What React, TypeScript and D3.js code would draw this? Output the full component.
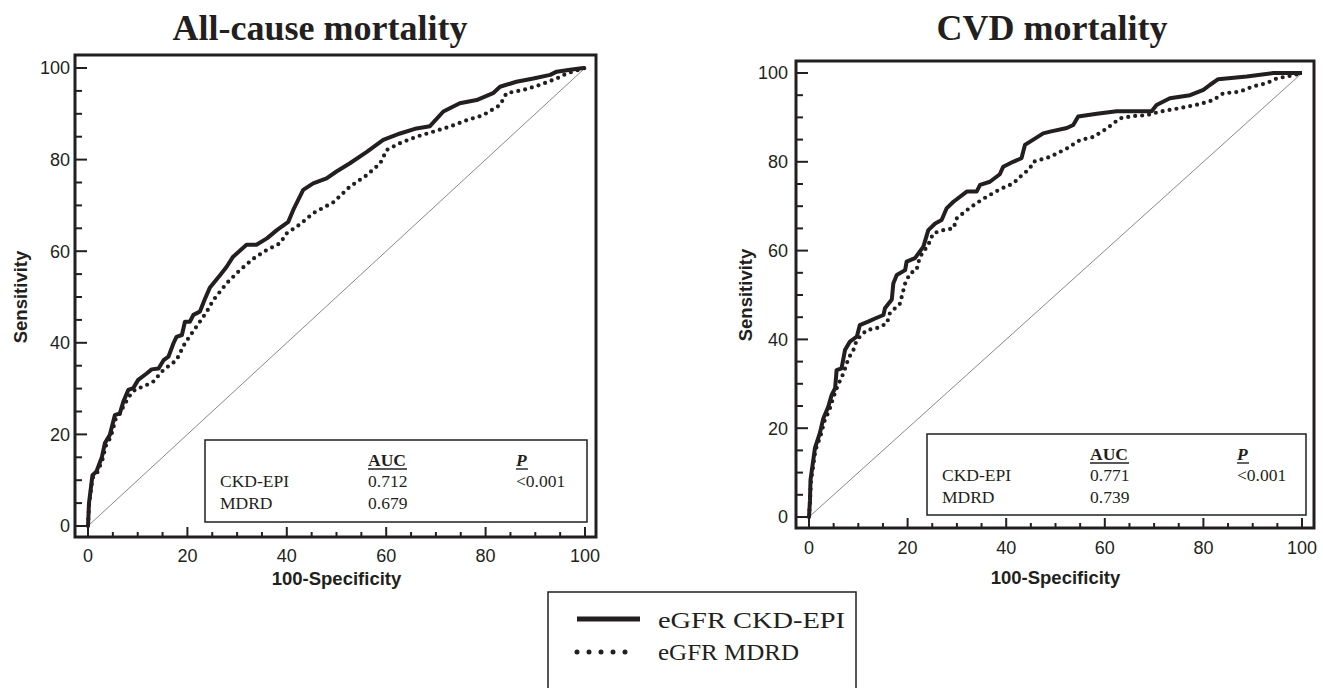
import React from "react";
import * as d3 from "d3";

const SANS = "'Liberation Sans', Arial, Helvetica, sans-serif";
const SERIF = "'Liberation Serif', 'Times New Roman', Times, serif";
const INK = "#231f20";

// ---- data (100-Specificity, Sensitivity) ----
const allCauseCkdEpi: [number, number][] = [
  [0,0],[0.2,5],[0.9,11.1],[1.7,11.9],[2.8,15.1],[3.4,18.1],[4.4,19.9],[5.4,24.2],[6.4,24.6],[7.1,27.1],[8.1,29.7],[9.1,30.1],[10.1,31.9],[11.8,33.3],[12.8,34.2],[14.2,34.4],[15.2,36.2],[16.2,37.0],[17.2,39.9],[17.8,41.3],[18.9,41.7],[19.5,44.6],[20.5,44.6],[21.2,46.1],[22.5,46.8],[23.5,49.5],[24.5,52.0],[26.6,54.8],[27.9,56.6],[29.2,58.8],[31.9,61.4],[33.9,61.4],[36.0,62.8],[38.0,64.6],[40.3,66.4],[41.3,69.0],[43.3,73.4],[45.3,74.8],[48.0,75.9],[50.0,77.4],[52.7,79.2],[56.1,81.7],[59.4,84.3],[62.8,85.7],[66.1,86.8],[68.8,87.3],[71.5,90.5],[74.8,92.3],[78.2,93.0],[81.5,94.5],[82.9,95.9],[86.2,97.0],[89.6,97.7],[93.0,98.5],[94.3,99.2],[97.0,99.6],[99.7,100],[100,100]
];
const allCauseMdrd: [number, number][] = [
  [0,0],[0.2,4.5],[0.9,10.5],[1.8,11.5],[2.9,14.5],[3.6,17.5],[4.6,19.5],[5.6,23.5],[6.4,24.5],[7.3,26.5],[8.5,28.6],[9.6,29.9],[11.1,30.4],[13.1,31.5],[15.2,34.1],[17.8,36.2],[19.5,39.9],[20.9,42.1],[22.5,44.6],[23.9,46.8],[25.2,49.3],[27.9,53.0],[30.6,55.9],[33.3,58.4],[36.0,60.3],[38.6,61.7],[40.0,63.9],[42.7,65.9],[45.3,68.3],[49.4,70.7],[52.7,74.1],[56.1,76.6],[58.8,79.2],[60.1,82.1],[62.8,83.6],[66.1,85.0],[69.5,86.1],[72.8,87.2],[76.2,88.6],[79.5,89.7],[82.9,91.9],[84.2,94.5],[87.6,95.2],[90.9,96.3],[94.3,97.7],[96.3,98.8],[100,100]
];
const cvdCkdEpi: [number, number][] = [
  [0,0],[0.2,3.8],[0.3,8.3],[1.2,15.5],[2.2,18.9],[2.9,22.2],[3.9,24.8],[4.6,27.5],[5.3,29.0],[5.6,33.1],[6.6,33.5],[7.3,37.6],[8.3,39.5],[9.7,40.6],[10.3,43.2],[12.0,44.0],[13.4,44.7],[15.1,45.5],[15.4,47.0],[16.8,49.0],[17.1,52.6],[17.8,54.5],[19.5,55.6],[19.8,57.5],[21.5,58.3],[23.2,60.9],[24.2,64.6],[25.6,66.1],[26.9,66.9],[27.9,69.5],[29.3,71.0],[32.0,73.3],[34.0,73.3],[34.7,74.8],[36.7,75.5],[38.7,77.2],[39.4,78.9],[41.4,80.0],[43.1,80.8],[43.8,83.8],[45.5,85.0],[47.5,86.4],[48.9,86.8],[52.3,87.6],[53.6,88.3],[54.6,90.2],[58.4,90.8],[62.4,91.4],[69.5,91.4],[70.5,92.8],[73.2,94.3],[77.3,95.0],[80.0,96.2],[81.3,97.3],[83.0,98.6],[88.8,99.2],[94.2,100],[100,100]
];
const cvdMdrd: [number, number][] = [
  [0,0],[0.2,3.5],[0.4,8],[1.3,15],[2.4,18.5],[3.1,21.5],[4.1,24],[4.9,26.8],[5.8,29.5],[7.0,32.4],[8.0,35.7],[9.0,37.6],[9.7,39.9],[11.7,42.1],[13.7,42.5],[15.8,43.6],[16.4,45.9],[18.5,48.1],[18.8,49.6],[19.5,52.6],[20.5,54.9],[21.8,55.6],[22.5,58.6],[24.2,61.3],[25.2,63.9],[27.2,64.6],[29.3,65.0],[30.0,67.3],[32.0,69.1],[34.0,70.7],[36.0,72.1],[38.7,73.8],[41.4,75.1],[42.8,76.6],[44.8,78.5],[45.5,80.0],[48.9,81.1],[52.3,83.0],[55.0,84.9],[57.7,85.6],[60.4,87.5],[63.1,89.8],[65.8,90.3],[68.5,90.5],[71.2,91.3],[75.3,92.1],[79.3,93.0],[82.0,93.9],[84.0,95.4],[87.4,95.8],[90.1,97.0],[92.8,97.7],[94.9,98.8],[98.3,99.5],[100,100]
];

const panelTitles = ["All-cause mortality", "CVD mortality"];
const methodNames = ["CKD-EPI", "MDRD"];
const allCauseAuc = ["0.712", "0.679"];
const cvdAuc = ["0.771", "0.739"];
const pValues = ["<0.001", "<0.001"];
const legendLabels = ["eGFR CKD-EPI", "eGFR MDRD"];
const xTitle = "100-Specificity";
const yTitle = "Sensitivity";
const majorTicks = [0, 20, 40, 60, 80, 100];

type PanelCfg = {
  title: string; titleX: number;
  frame: { l: number; t: number; r: number; b: number };
  xr: [number, number]; yr: [number, number];
  xLabelY: number; yLabelX: number; xTitleY: number; yTitleX: number;
  box: { l: number; t: number; r: number; b: number };
  textX: number; aucX: number; pX: number; headY: number; row1Y: number; row2Y: number;
  ckd: [number, number][]; mdrd: [number, number][]; auc: string[]; p: string;
};

const panels: PanelCfg[] = [
  {
    title: panelTitles[0], titleX: 320,
    frame: { l: 75, t: 55, r: 596, b: 537 },
    xr: [88, 585], yr: [526, 68],
    xLabelY: 562, yLabelX: 70, xTitleY: 585, yTitleX: 27,
    box: { l: 205, t: 440, r: 587, b: 522 },
    textX: 220, aucX: 368, pX: 516, headY: 466, row1Y: 487, row2Y: 509,
    ckd: allCauseCkdEpi, mdrd: allCauseMdrd, auc: allCauseAuc, p: pValues[0],
  },
  {
    title: panelTitles[1], titleX: 1052,
    frame: { l: 796, t: 61, r: 1314, b: 528 },
    xr: [809, 1302], yr: [517, 73],
    xLabelY: 554, yLabelX: 788, xTitleY: 584, yTitleX: 752,
    box: { l: 927, t: 434, r: 1306, b: 515 },
    textX: 942, aucX: 1090, pX: 1237, headY: 460, row1Y: 481, row2Y: 503,
    ckd: cvdCkdEpi, mdrd: cvdMdrd, auc: cvdAuc, p: pValues[1],
  },
];

function Panel({ c }: { c: PanelCfg }) {
  const x = d3.scaleLinear().domain([0, 100]).range(c.xr);
  const y = d3.scaleLinear().domain([0, 100]).range(c.yr);
  const line = d3.line<[number, number]>().x((d) => x(d[0])).y((d) => y(d[1]));
  const minor = d3.range(0, 101, 5);
  const f = c.frame;
  const midY = (c.yr[0] + c.yr[1]) / 2;
  return (
    <g>
      <text x={c.titleX} y={40} textAnchor="middle" fontFamily={SERIF} fontWeight="bold" fontSize={36} fill={INK}>{c.title}</text>
      <line x1={x(0)} y1={y(0)} x2={x(100)} y2={y(100)} stroke="#555" strokeWidth={0.7} />
      <rect x={c.box.l} y={c.box.t} width={c.box.r - c.box.l} height={c.box.b - c.box.t} fill="white" stroke={INK} strokeWidth={1.5} />
      <g fontFamily={SERIF} fontSize={17.5} fill={INK}>
        <text x={c.aucX} y={c.headY} fontWeight="bold">AUC</text>
        <line x1={c.aucX} x2={c.aucX + 39} y1={c.headY + 3} y2={c.headY + 3} stroke={INK} strokeWidth={1.4} />
        <text x={c.pX} y={c.headY} fontWeight="bold" fontStyle="italic">P</text>
        <line x1={c.pX} x2={c.pX + 12} y1={c.headY + 3} y2={c.headY + 3} stroke={INK} strokeWidth={1.4} />
        <text x={c.textX} y={c.row1Y}>{methodNames[0]}</text>
        <text x={c.textX} y={c.row2Y}>{methodNames[1]}</text>
        <text x={c.aucX} y={c.row1Y}>{c.auc[0]}</text>
        <text x={c.aucX} y={c.row2Y}>{c.auc[1]}</text>
        <text x={c.pX} y={c.row1Y}>{c.p}</text>
      </g>
      <path d={line(c.mdrd) || ""} fill="none" stroke={INK} strokeWidth={4.2} strokeLinecap="round" strokeDasharray="0 7" />
      <path d={line(c.ckd) || ""} fill="none" stroke={INK} strokeWidth={4} strokeLinejoin="round" />
      <rect x={f.l} y={f.t} width={f.r - f.l} height={f.b - f.t} fill="none" stroke={INK} strokeWidth={3} />
      {minor.map((v) => {
        const major = v % 20 === 0;
        return (
          <g key={"t" + v}>
            <line x1={f.l} x2={f.l + (major ? 12 : 7)} y1={y(v)} y2={y(v)} stroke={INK} strokeWidth={2} />
            <line x1={x(v)} x2={x(v)} y1={f.b} y2={f.b - (major ? 10 : 5)} stroke={INK} strokeWidth={2} />
          </g>
        );
      })}
      <g fontFamily={SANS} fontSize={18} fill={INK}>
        {majorTicks.map((v) => (
          <text key={"yl" + v} x={c.yLabelX} y={y(v)} dy="0.35em" textAnchor="end">{v}</text>
        ))}
        {majorTicks.map((v) => (
          <text key={"xl" + v} x={x(v)} y={c.xLabelY} textAnchor="middle">{v}</text>
        ))}
      </g>
      <text x={(c.xr[0] + c.xr[1]) / 2} y={c.xTitleY} textAnchor="middle" fontFamily={SANS} fontWeight="bold" fontSize={18.5} fill={INK}>{xTitle}</text>
      <text transform={`translate(${c.yTitleX},${midY}) rotate(-90)`} textAnchor="middle" fontFamily={SANS} fontWeight="bold" fontSize={18.5} fill={INK}>{yTitle}</text>
    </g>
  );
}

export default function App() {
  const legendX = d3.scaleLinear().domain([0, 1]).range([577, 637]);
  return (
    <svg width={1323} height={688} style={{ position: "absolute", left: 0, top: 0, background: "white" }}>
      <rect x={0} y={0} width={1323} height={688} fill="white" />
      {panels.map((c, i) => <Panel key={i} c={c} />)}
      <rect x={548} y={592} width={308} height={110} fill="white" stroke={INK} strokeWidth={1.5} />
      <line x1={legendX(0)} x2={legendX(1) + 3} y1={619} y2={619} stroke={INK} strokeWidth={5} />
      <line x1={legendX(0)} x2={legendX(1)} y1={652} y2={652} stroke={INK} strokeWidth={5} strokeLinecap="round" strokeDasharray="0 12" />
      <g fontFamily={SERIF} fontSize={24} fill={INK}>
        <text x={658} y={628} textLength={187} lengthAdjust="spacingAndGlyphs">{legendLabels[0]}</text>
        <text x={658} y={660} textLength={141} lengthAdjust="spacingAndGlyphs">{legendLabels[1]}</text>
      </g>
    </svg>
  );
}
